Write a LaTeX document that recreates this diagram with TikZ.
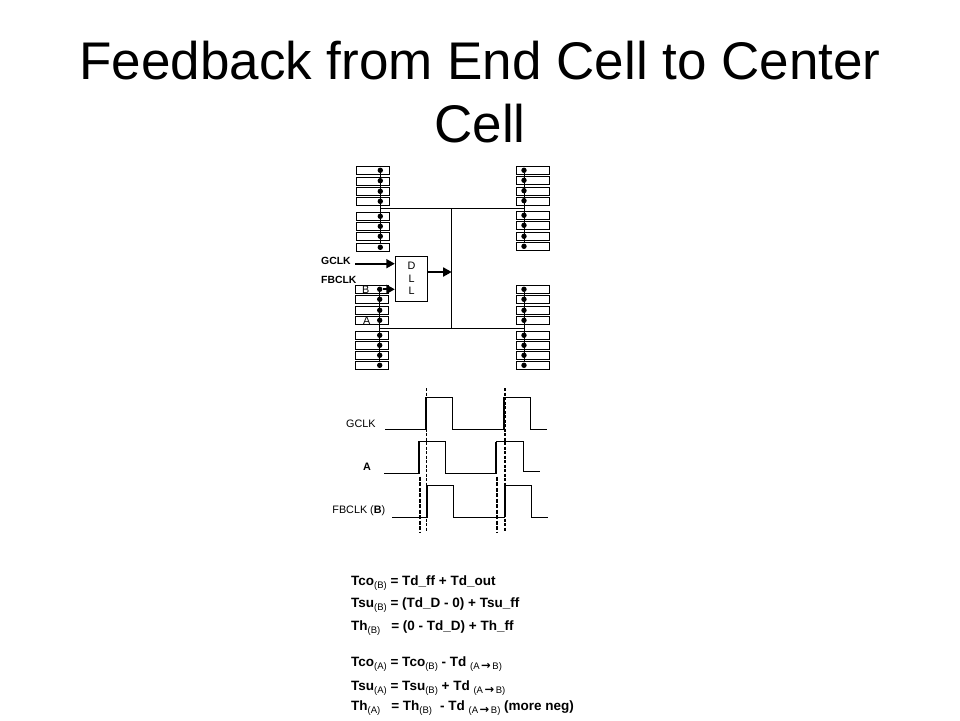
\documentclass[tikz,border=0pt]{standalone}
\usepackage{fontspec}
\setmainfont{Liberation Sans}
\usetikzlibrary{arrows.meta,positioning}
\tikzset{
  regbox/.style={draw, line width=1pt, minimum width=32.5pt, minimum height=8pt, inner sep=0pt, anchor=north west},
  regdot/.style={circle, fill=black, inner sep=0pt, minimum size=5.4pt},
  bus/.style={line width=1pt},
  clkarrow/.style={line width=1.7pt, -{Triangle[length=8.5pt,width=9pt]}},
  wave/.style={line width=1pt},
  edgeline/.style={line width=2pt},
  dashthin/.style={line width=1.2pt, dash pattern=on 3pt off 1.5pt},
  dashthick/.style={line width=1.8pt, dash pattern=on 4pt off 1.5pt},
  eqn/.style={anchor=base west, inner sep=0pt, font=\fontsize{13.5}{14}\selectfont\bfseries},
  wavelabel/.style={inner sep=0pt, font=\fontsize{10.8}{11}\selectfont}
}
\newcommand{\subtag}[1]{\raisebox{-3pt}{\fontsize{9.5}{9.5}\selectfont\mdseries #1}}
\newcommand{\subarrow}{\subtag{(A\,{\fontspec{DejaVu Sans}\fontsize{11.5}{11.5}\selectfont\bfseries→}\,B)}}

\begin{document}
\begin{tikzpicture}[x=1pt,y=-1pt]
  \useasboundingbox (0,0) rectangle (960,720);

  % Title
  \node[inner sep=0pt, align=center, font=\fontsize{53}{63}\selectfont] (title) at (480,92.5)
    {Feedback from End Cell to Center\\Cell};

  % Register columns
  \foreach \y [count=\i] in {166.3,176.7,187.3,197.3,212.3,222.3,232.3,243.3} {
    \node[regbox] (lt\i) at (356,\y) {};
    \node[regdot] (ltd\i) at (380.3,\y+4) {};
  }
  \foreach \y [count=\i] in {285.3,295.3,306.3,316.3,331.3,341.3,351.3,361.3} {
    \node[regbox] (lb\i) at (355,\y) {};
    \node[regdot] (lbd\i) at (379.7,\y+4) {};
  }
  \foreach \y [count=\i] in {166.3,176.3,186.7,196.7,211.3,221.3,232.3,242.3} {
    \node[regbox] (rt\i) at (516,\y) {};
    \node[regdot] (rtd\i) at (524,\y+4) {};
  }
  \foreach \y [count=\i] in {285.3,295.3,306.3,316.3,331.3,341.3,351.3,361.3} {
    \node[regbox] (rb\i) at (516,\y) {};
    \node[regdot] (rbd\i) at (524,\y+4) {};
  }

  % Clock tree
  \draw[bus] (ltd1) -- (ltd8);
  \draw[bus] (lbd1) -- (lbd8);
  \draw[bus] (rtd1) -- (rtd8);
  \draw[bus] (rbd1) -- (rbd8);
  \coordinate (toptap) at (380.3,208.3);
  \coordinate (bottap) at (379.7,328.3);
  \draw[bus] (toptap) -- (toptap -| rtd1);
  \draw[bus] (bottap) -- (bottap -| rbd1);
  \coordinate (trunktop) at (451.7,208.3);
  \coordinate (trunkbot) at (451.7,328.3);
  \draw[bus] (trunktop) -- (trunkbot);

  % DLL
  \node[draw, fill=white, line width=1pt, minimum width=32.4pt, minimum height=45pt, inner sep=0pt, align=center,
        font=\fontsize{10.8}{12.5}\selectfont] (dll) at (411.5,278.5) {D\\L\\L};
  \coordinate (gclkin) at (355,263.7);
  \coordinate (dllout) at (451.7,272);
  \draw[clkarrow] (gclkin) -- (gclkin -| dll.west);
  \draw[clkarrow] (lbd1) -- (lbd1 -| dll.west);
  \draw[clkarrow] (dllout -| dll.east) -- (dllout);

  \node[inner sep=0pt, anchor=west, font=\fontsize{10.4}{11}\selectfont\bfseries] (gclk) at (321,261) {GCLK};
  \node[inner sep=0pt, anchor=west, font=\fontsize{10.4}{11}\selectfont\bfseries] (fbclk) at (321,280) {FBCLK};
  \node[inner sep=0pt, font=\fontsize{10.8}{11}\selectfont] (bname) at (365.7,289.3) {B};
  \node[inner sep=0pt, font=\fontsize{10.8}{11}\selectfont] (aname) at (366.7,320.3) {A};

  % Timing
  \draw[wave] (385,429) -- (426,429) -- (426,397.3) -- (452.7,397.3) -- (452.7,429)
    -- (504.3,429) -- (504.3,397.3) -- (530.7,397.3) -- (530.7,429) -- (547,429);
  \draw[wave] (384.3,473.7) -- (418.7,473.7) -- (418.7,441.7) -- (445.3,441.7) -- (445.3,473.7)
    -- (496.3,473.7) -- (496.3,441.7) -- (523.3,441.7) -- (523.3,471) -- (540,471);
  \draw[wave] (392.3,517) -- (427,517) -- (427,485) -- (453.3,485) -- (453.3,517)
    -- (504.7,517) -- (504.7,485) -- (531.7,485) -- (531.7,517) -- (548,517);
  \foreach \x/\a/\b in {426/429/397.3, 504.3/429/397.3, 418.7/473.7/441.7, 496.3/473.7/441.7, 427/517/485, 504.7/517/485} {
    \draw[edgeline] (\x,\a) -- (\x,\b);
  }
  \foreach \x in {426.7,505} {
    \draw[dashthin] (\x,388) -- (\x,532);
  }
  \foreach \x in {419.7,497.3} {
    \draw[dashthick] (\x,476.7) -- (\x,532);
  }

  \node[wavelabel] (wgclk) at (360.8,423.3) {GCLK};
  \node[wavelabel, font=\fontsize{10.8}{11}\selectfont\bfseries] (wa) at (367,466.7) {A};
  \node[wavelabel] (wfb) at (358.8,510.7) {FBCLK (\textbf{B})};

  % Equations
  \node[eqn] (eq1) at (351,585.7) {Tco\subtag{(B)} = Td\_ff + Td\_out};
  \node[eqn] (eq2) at (351,607.7) {Tsu\subtag{(B)} = (Td\_D - 0) + Tsu\_ff};
  \node[eqn] (eq3) at (351,630.7) {Th\subtag{(B)}\hspace{11pt}= (0 - Td\_D) + Th\_ff};
  \node[eqn] (eq4) at (351,666.7) {Tco\subtag{(A)} = Tco\subtag{(B)} - Td \subarrow};
  \node[eqn] (eq5) at (351,690) {Tsu\subtag{(A)} = Tsu\subtag{(B)} + Td \subarrow};
  \node[eqn] (eq6) at (351,710.7) {Th\subtag{(A)}\hspace{11pt}= Th\subtag{(B)}\hspace{8pt}- Td \subarrow\ (more neg)};
\end{tikzpicture}
\end{document}
